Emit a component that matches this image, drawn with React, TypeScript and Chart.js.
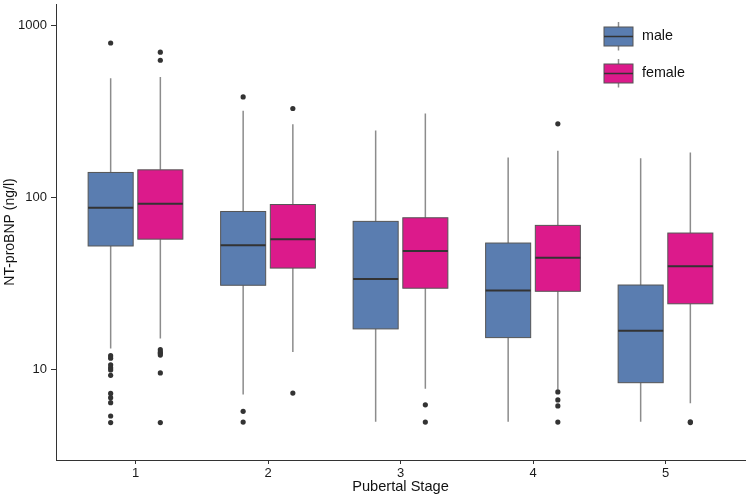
import React, { useEffect, useRef } from "react";
import { Chart, registerables } from "chart.js";

Chart.register(...registerables);

const stages = [1, 2, 3, 4, 5];
const stageLabels = ["1", "2", "3", "4", "5"];
const yTickValues = [10, 100, 1000];

const maleQ1 = [52.4, 31, 17.3, 15.4, 8.43];
const maleMedian = [87.3, 53, 33.7, 28.9, 16.9];
const maleQ3 = [140, 83.1, 72.8, 54.5, 31.1];
const maleLow = [13.3, 7.2, 5.0, 5.0, 5.0];
const maleHigh = [493, 319, 245, 171, 169];
const maleOutliers = [
  [790, 12.1, 11.7, 10.7, 10.3, 10.0, 9.3, 7.3, 6.9, 6.45, 5.4, 4.95],
  [384, 5.75, 4.98],
  [],
  [],
  [],
];

const femaleQ1 = [57.4, 39, 29.8, 28.6, 24.2];
const femaleMedian = [92, 57.4, 49, 44.8, 39.9];
const femaleQ3 = [145, 91.2, 76.4, 69, 62.3];
const femaleLow = [15.2, 12.7, 7.78, 7.7, 6.4];
const femaleHigh = [502, 267, 308, 187, 183];
const femaleOutliers = [
  [699, 627, 13.1, 12.7, 12.5, 12.2, 9.6, 4.95],
  [329, 7.34],
  [6.27, 4.98],
  [268, 7.45, 6.7, 6.18, 4.98],
  [5.0, 4.95],
];

const MALE_COLOR = "#5a7db0";
const FEMALE_COLOR = "#dc1a8b";
const DODGE = 0.1875;
const HALF_W = 0.17;
const FONT = "'Liberation Sans', Arial, sans-serif";

const groups = [
  { name: "male", color: MALE_COLOR, off: -DODGE, q1: maleQ1, med: maleMedian, q3: maleQ3, lo: maleLow, hi: maleHigh, out: maleOutliers },
  { name: "female", color: FEMALE_COLOR, off: DODGE, q1: femaleQ1, med: femaleMedian, q3: femaleQ3, lo: femaleLow, hi: femaleHigh, out: femaleOutliers },
];

const boxPlugin = {
  id: "boxes",
  beforeDatasetsDraw(chart: any) {
    const ctx = chart.ctx;
    const xs = chart.scales.x;
    const ys = chart.scales.y;
    ctx.save();
    groups.forEach((g) => {
      stages.forEach((st, i) => {
        const cx = xs.getPixelForValue(st + g.off);
        const l = xs.getPixelForValue(st + g.off - HALF_W);
        const r = xs.getPixelForValue(st + g.off + HALF_W);
        const yq1 = ys.getPixelForValue(g.q1[i]);
        const yq3 = ys.getPixelForValue(g.q3[i]);
        const ymed = ys.getPixelForValue(g.med[i]);
        const ylo = ys.getPixelForValue(g.lo[i]);
        const yhi = ys.getPixelForValue(g.hi[i]);
        ctx.strokeStyle = "#8c8c8c";
        ctx.lineWidth = 1.5;
        ctx.beginPath();
        ctx.moveTo(cx, yhi);
        ctx.lineTo(cx, yq3);
        ctx.moveTo(cx, yq1);
        ctx.lineTo(cx, ylo);
        ctx.stroke();
        ctx.fillStyle = g.color;
        ctx.fillRect(l, yq3, r - l, yq1 - yq3);
        ctx.strokeStyle = "#555555";
        ctx.lineWidth = 1;
        ctx.strokeRect(l, yq3, r - l, yq1 - yq3);
        ctx.strokeStyle = "#333333";
        ctx.lineWidth = 2;
        ctx.beginPath();
        ctx.moveTo(l, ymed);
        ctx.lineTo(r, ymed);
        ctx.stroke();
      });
    });
    ctx.restore();
  },
  afterDraw(chart: any) {
    const ctx = chart.ctx;
    ctx.save();
    const keys = [
      { g: groups[0], top: 27, text: "male" },
      { g: groups[1], top: 64, text: "female" },
    ];
    keys.forEach((k) => {
      const l = 604, w = 29, h = 19;
      const cx = l + w / 2;
      ctx.strokeStyle = "#8c8c8c";
      ctx.lineWidth = 1.5;
      ctx.beginPath();
      ctx.moveTo(cx, k.top - 5);
      ctx.lineTo(cx, k.top);
      ctx.moveTo(cx, k.top + h);
      ctx.lineTo(cx, k.top + h + 4.5);
      ctx.stroke();
      ctx.fillStyle = k.g.color;
      ctx.fillRect(l, k.top, w, h);
      ctx.strokeStyle = "#555555";
      ctx.lineWidth = 1;
      ctx.strokeRect(l, k.top, w, h);
      ctx.strokeStyle = "#333333";
      ctx.lineWidth = 1.5;
      ctx.beginPath();
      ctx.moveTo(l, k.top + h / 2);
      ctx.lineTo(l + w, k.top + h / 2);
      ctx.stroke();
      ctx.fillStyle = "#111111";
      ctx.font = `14.3px ${FONT}`;
      ctx.textBaseline = "middle";
      ctx.textAlign = "left";
      ctx.fillText(k.text, 642, k.top + h / 2);
    });
    ctx.restore();
  },
};

function outlierPoints(g: any) {
  const pts: { x: number; y: number }[] = [];
  stages.forEach((st, i) => {
    g.out[i].forEach((v: number) => pts.push({ x: st + g.off, y: v }));
  });
  return pts;
}

export default function App() {
  const ref = useRef<HTMLCanvasElement | null>(null);
  useEffect(() => {
    if (!ref.current) return;
    const chart = new Chart(ref.current, {
      type: "scatter",
      data: {
        datasets: groups.map((g) => ({
          label: g.name,
          data: outlierPoints(g),
          pointRadius: 2.6,
          pointBackgroundColor: "#333333",
          pointBorderWidth: 0,
          pointBorderColor: "#333333",
        })),
      },
      options: {
        animation: false,
        responsive: false,
        layout: { padding: { top: 3, right: 3, left: 0, bottom: 0 } },
        plugins: { legend: { display: false }, tooltip: { enabled: false } },
        scales: {
          x: {
            type: "linear",
            min: 0.4,
            max: 5.6,
            afterBuildTicks: (s: any) => {
              s.ticks = stages.map((v) => ({ value: v }));
            },
            afterFit: (s: any) => {
              s.height = 37;
              s.paddingLeft = 0;
              s.paddingRight = 0;
            },
            ticks: {
              callback: (v: any) => stageLabels[stages.indexOf(Number(v))] ?? "",
              color: "#1a1a1a",
              font: { family: FONT, size: 13 },
              padding: 2,
              maxRotation: 0,
            },
            grid: { drawOnChartArea: false, drawTicks: true, tickLength: 4, tickColor: "#333333" },
            border: { color: "#333333", width: 1 },
            title: {
              display: true,
              text: "Pubertal Stage",
              color: "#111111",
              font: { family: FONT, size: 14.6 },
              padding: { top: 0, bottom: 1 },
            },
          },
          y: {
            type: "logarithmic",
            min: 3,
            max: 1330,
            afterBuildTicks: (s: any) => {
              s.ticks = yTickValues.map((v) => ({ value: v }));
            },
            afterFit: (s: any) => {
              s.width = 56;
              s.paddingTop = 0;
              s.paddingBottom = 0;
            },
            ticks: {
              callback: (v: any) => String(v),
              color: "#1a1a1a",
              font: { family: FONT, size: 13 },
              padding: 4,
            },
            grid: { drawOnChartArea: false, drawTicks: true, tickLength: 5, tickColor: "#333333" },
            border: { color: "#333333", width: 1 },
            title: {
              display: true,
              text: "NT-proBNP (ng/l)",
              color: "#111111",
              font: { family: FONT, size: 14 },
              padding: { top: 2, bottom: 0 },
            },
          },
        },
      },
      plugins: [boxPlugin],
    });
    return () => chart.destroy();
  }, []);
  return (
    <div style={{ position: "fixed", left: 0, top: 0, width: 749, height: 497, background: "#ffffff" }}>
      <canvas ref={ref} width={749} height={497} style={{ display: "block", width: 749, height: 497 }} />
    </div>
  );
}
